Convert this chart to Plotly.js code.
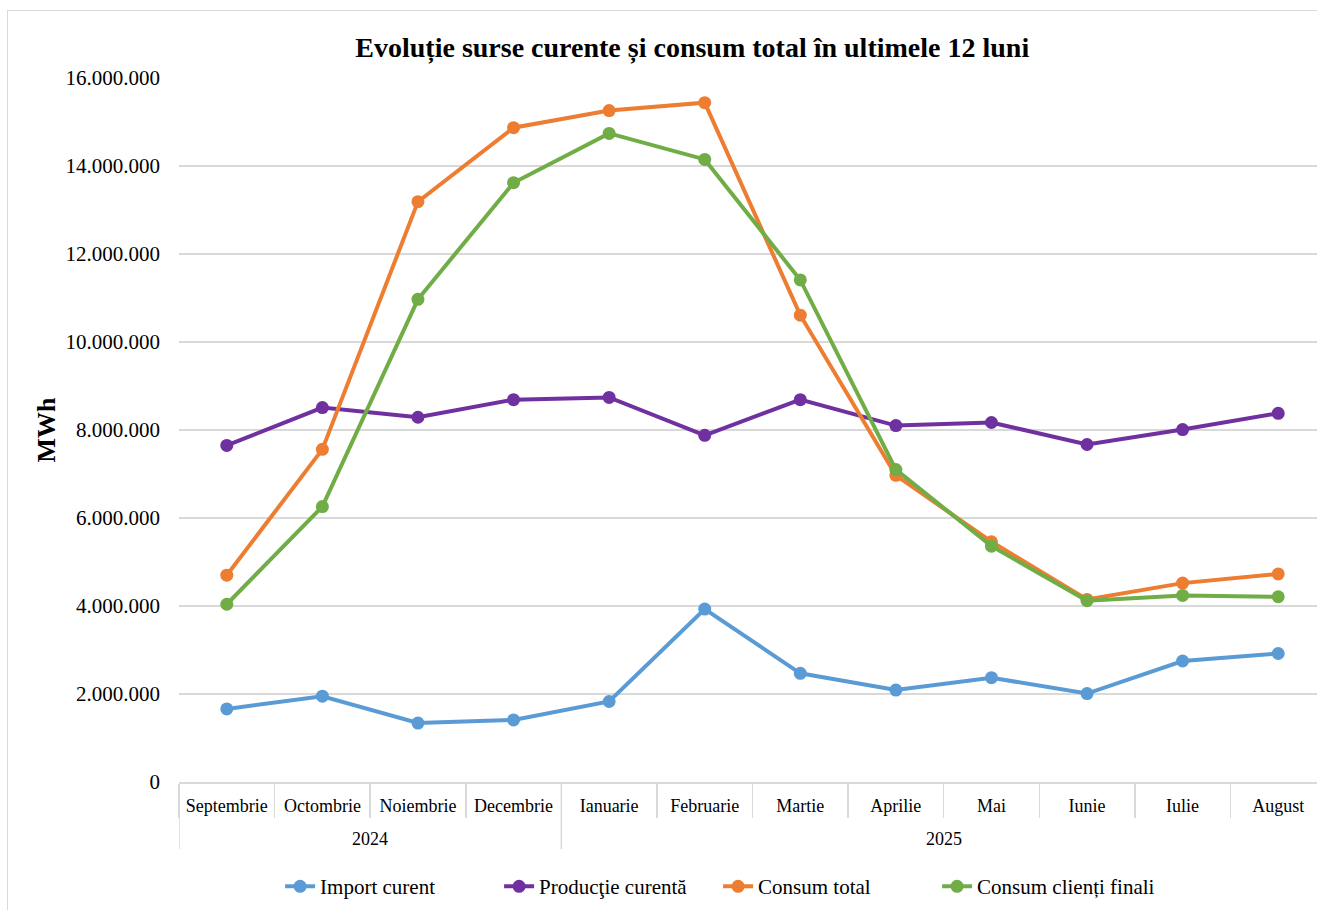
<!DOCTYPE html>
<html>
<head>
<meta charset="utf-8">
<script src="https://cdn.plot.ly/plotly-3.0.1.min.js"></script>
<style>
html,body{margin:0;padding:0;background:#fff;overflow:hidden;width:1317px;height:910px;}
#frame{position:absolute;left:7px;top:10px;width:1400px;height:1000px;border:1px solid #d9d9d9;z-index:0;}
#chart{position:absolute;left:0;top:0;width:1330px;height:910px;z-index:1;}
</style>
</head>
<body>
<div id="frame"></div>
<div id="chart"></div>
<script>
const years = ["2024","2024","2024","2024","2025","2025","2025","2025","2025","2025","2025","2025"];
const months = ["Septembrie","Octombrie","Noiembrie","Decembrie","Ianuarie","Februarie","Martie","Aprilie","Mai","Iunie","Iulie","August"];
const importCurent = [1660000,1950000,1340000,1410000,1830000,3930000,2470000,2090000,2370000,2010000,2750000,2920000];
const productieCurenta = [7650000,8510000,8290000,8690000,8740000,7880000,8690000,8100000,8170000,7670000,8010000,8380000];
const consumTotal = [4700000,7560000,13190000,14870000,15260000,15440000,10610000,6970000,5460000,4150000,4520000,4730000];
const consumClienti = [4040000,6260000,10970000,13620000,14740000,14150000,11410000,7100000,5360000,4120000,4240000,4210000];
const seriesNames = ["Import curent","Producţie curentă","Consum total","Consum clienți finali"];
const colors = ["#5b9bd5","#7030a0","#ed7d31","#70ad47"];
const allSeries = [importCurent, productieCurenta, consumTotal, consumClienti];

const traces = allSeries.map((vals, i) => ({
  type: "scatter",
  mode: "lines+markers",
  name: seriesNames[i],
  x: months,
  y: vals,
  line: {color: colors[i], width: 4},
  marker: {color: colors[i], size: 13},
  cliponaxis: false
}));

// year groups (second level of the category axis)
const groups = [];
years.forEach((y, i) => {
  if (!groups.length || groups[groups.length - 1].year !== y) groups.push({year: y, first: i, last: i});
  else groups[groups.length - 1].last = i;
});
const font = "Liberation Serif, Times New Roman, serif";
const gridCol = "#d9d9d9";
const annotations = groups.map(g => ({
  xref: "x", yref: "paper", x: (g.first + g.last) / 2, y: -0.0805,
  text: g.year, showarrow: false, yanchor: "middle",
  font: {family: font, size: 18, color: "#000"}
}));
const shapes = [];
groups.forEach(g => {
  shapes.push({type: "line", xref: "x", yref: "paper", x0: g.first - 0.5, x1: g.first - 0.5, y0: 0, y1: -0.0955, line: {color: gridCol, width: 1.5}});
});
shapes.push({type: "line", xref: "x", yref: "paper", x0: years.length - 0.5, x1: years.length - 0.5, y0: 0, y1: -0.0955, line: {color: gridCol, width: 1.5}});

const layout = {
  width: 1330, height: 910,
  margin: {l: 179, r: 4, t: 78, b: 127},
  paper_bgcolor: "rgba(0,0,0,0)",
  plot_bgcolor: "rgba(0,0,0,0)",
  separators: ",.",
  font: {family: font, size: 18, color: "#000"},
  title: {text: "<b>Evoluție surse curente și consum total în ultimele 12 luni</b>", font: {family: font, size: 28, color: "#000"}, x: 0.5205, xanchor: "center", y: 0.948, yanchor: "middle"},
  xaxis: {
    type: "category",
    range: [-0.5, months.length - 0.5],
    showline: true, linecolor: gridCol, linewidth: 1.5,
    ticks: "outside", tickson: "boundaries", ticklen: 34, tickcolor: gridCol, tickwidth: 1.5,
    showgrid: false,
    ticklabelstandoff: 7,
    tickfont: {family: font, size: 18, color: "#000"}
  },
  yaxis: {
    range: [0, 16000000],
    tickvals: [0,2000000,4000000,6000000,8000000,10000000,12000000,14000000,16000000],
    tickformat: ",d",
    showgrid: true, gridcolor: gridCol, gridwidth: 1.5,
    zeroline: false,
    ticks: "", ticklabelstandoff: 18,
    tickfont: {family: font, size: 21, color: "#000"},
    title: {text: "<b>MWh</b>", font: {family: font, size: 26, color: "#000"}, standoff: 2}
  },
  annotations: annotations,
  shapes: shapes,
  legend: {
    orientation: "h", x: 0.47, xanchor: "center", y: -0.147, yanchor: "middle",
    font: {family: font, size: 21, color: "#000"},
    entrywidth: 174, entrywidthmode: "pixels",
    tracegroupgap: 0
  },
  showlegend: true
};

Plotly.newPlot("chart", traces, layout, {displayModeBar: false, staticPlot: true});
</script>
</body>
</html>
